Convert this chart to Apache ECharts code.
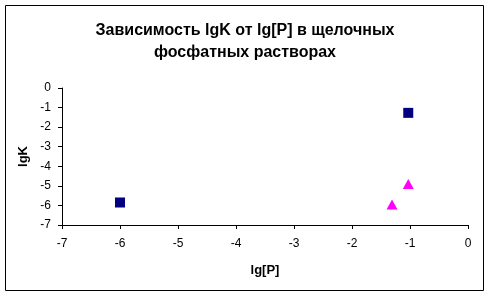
<!DOCTYPE html>
<html><head><meta charset="utf-8">
<script src="https://cdn.jsdelivr.net/npm/echarts@6/dist/echarts.min.js"></script>
<style>html,body{margin:0;padding:0;background:#fff}#c{width:491px;height:296px}</style>
</head><body><div id="c"></div>
<script>
var titleText = "Зависимость lgK от lg[P] в щелочных\nфосфатных растворах";
var xName = "lg[P]";
var yName = "lgK";
var squaresX = [-6.0, -1.03];
var squaresY = [-5.85, -1.27];
var trianglesX = [-1.31, -1.03];
var trianglesY = [-5.95, -4.91];

function pairs(xs, ys){ return xs.map(function(x,i){ return [x, ys[i]]; }); }

var chart = echarts.init(document.getElementById('c'), null, {renderer:'canvas'});
var axisText = {color:'#000', fontFamily:'Liberation Sans, Arial', fontSize:12};
chart.setOption({
  animation:false,
  backgroundColor:'#fff',
  title:{text:titleText, left:240, top:15, textAlign:'center',
    textStyle:{fontFamily:'Liberation Sans, Arial', fontWeight:'bold', fontSize:16, lineHeight:22, color:'#000'}},
  graphic:[{type:'rect', shape:{x:5.5,y:5.5,width:478,height:285}, style:{fill:null, stroke:'#000', lineWidth:1}, z:-1}],
  grid:{left:62, right:23, top:88, bottom:71},
  xAxis:{type:'value', min:-7, max:0, interval:1, name:xName, nameLocation:'middle', nameGap:39,
    nameTextStyle:{fontFamily:'Liberation Sans, Arial', fontWeight:'bold', fontSize:13, color:'#000'},
    axisLine:{show:true, onZero:false, lineStyle:{color:'#000', width:1}},
    axisTick:{show:true, length:4, inside:false, lineStyle:{color:'#000'}},
    axisLabel:Object.assign({margin:13}, axisText),
    splitLine:{show:false}},
  yAxis:{type:'value', min:-7, max:0, interval:1, name:yName, nameLocation:'middle', nameGap:27, nameRotate:90,
    nameTextStyle:{fontFamily:'Liberation Sans, Arial', fontWeight:'bold', fontSize:13, color:'#000'},
    axisLine:{show:true, onZero:false, lineStyle:{color:'#000', width:1}},
    axisTick:{show:true, length:4, inside:false, lineStyle:{color:'#000'}},
    axisLabel:Object.assign({margin:11}, axisText),
    splitLine:{show:false}},
  series:[
    {type:'scatter', data:pairs(squaresX, squaresY), symbol:'rect', symbolSize:10,
      itemStyle:{color:'#000080', opacity:1}},
    {type:'scatter', data:pairs(trianglesX, trianglesY), symbol:'triangle', symbolSize:[11,10],
      itemStyle:{color:'#FF00FF', opacity:1}}
  ]
});
</script></body></html>
